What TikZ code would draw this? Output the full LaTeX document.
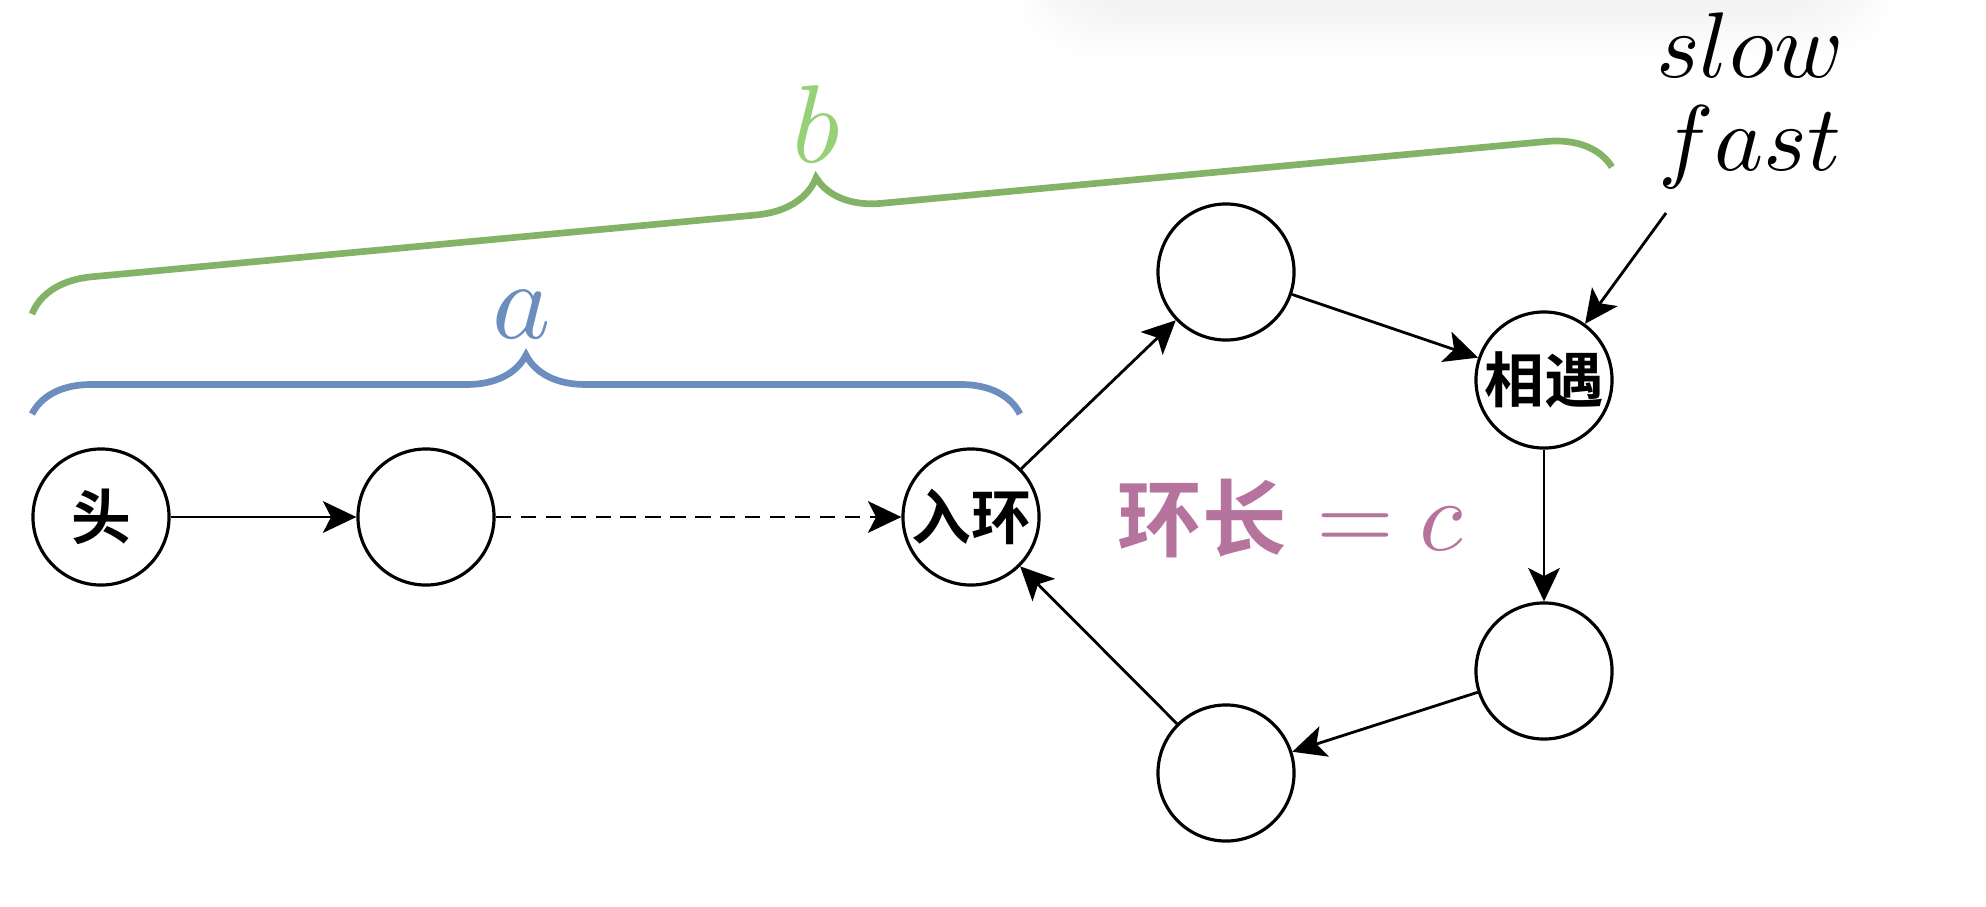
\documentclass[tikz,border=0pt]{standalone}
\usepackage{fontspec}
\newfontfamily\cjk{Noto Sans CJK SC Bold}
\DeclareFontFamily{OML}{cmm}{\skewchar\font'177}
\DeclareFontShape{OML}{cmm}{m}{it}{<->cmmi10}{}
\DeclareFontShape{OT1}{cmr}{m}{n}{<->cmr10}{}
\usetikzlibrary{arrows.meta,decorations.pathreplacing}
\definecolor{bracegreen}{HTML}{82B366}
\definecolor{labelgreen}{HTML}{97D077}
\definecolor{braceblue}{HTML}{6C8EBF}
\definecolor{ringpurple}{HTML}{B5739D}

\begin{document}
\begin{tikzpicture}[x=0.01cm,y=-0.01cm]
    \tikzset{list node/.style={circle,draw,line width=0.9pt,minimum size=1.36cm,inner sep=0pt,font=\cjk\fontsize{17}{18}\selectfont}}
    \tikzset{link/.style={line width=0.8pt,-{Stealth[length=9.5pt,width=9pt,inset=2.3pt]}}}
    \tikzset{len brace/.style={decorate,line width=1.9pt,decoration={brace,amplitude=#1}}}
    \useasboundingbox (0,0) rectangle (1986,906);
    \foreach \i in {0,...,11}
        \fill[black,opacity=0.004,rounded corners=20pt] (1016+\i*5,-40) rectangle (1895-\i*5,56-\i*4);
    \node[list node] (head) at (101,517) {头};
    \node[list node] (second) at (426,517) {};
    \node[list node] (entry) at (971,517) {入环};
    \node[list node] (top) at (1226,272) {};
    \node[list node] (meet) at (1544,380) {相遇};
    \node[list node] (right) at (1544,671) {};
    \node[list node] (bottom) at (1226,773) {};
    \node[text=ringpurple,font=\fontsize{28.5}{30}\selectfont] (ringlen) at (1290,519) {{\cjk\fontsize{24}{26}\selectfont 环长} $= c$};
    \node[align=center,inner sep=0pt,font=\fontsize{26.5}{28}\selectfont] (ptr) at (1750,101) {$slow$\\[-1.5pt]$fast$};
    \coordinate (ptrtail) at (1666,213);
    \draw[link] (head) -- (second);
    \draw[link,dash pattern=on 4.3pt off 2.8pt] (second) -- (entry);
    \draw[link] (entry) -- (top);
    \draw[link] (top) -- (meet);
    \draw[link] (meet) -- (right);
    \draw[link] (right) -- (bottom);
    \draw[link] (bottom) -- (entry);
    \draw[link] (ptrtail) -- (meet);
    \draw[len brace=0.59cm,braceblue] (32,414) -- (1020,414);
    \draw[len brace=0.63cm,bracegreen] (32,314) -- (1612,167);
    \node[text=braceblue,font=\fontsize{31.5}{33}\selectfont] (lbla) at (522,315) {$a$};
    \node[text=labelgreen,font=\fontsize{31.5}{33}\selectfont] (lblb) at (816,124) {$b$};
\end{tikzpicture}
\end{document}
